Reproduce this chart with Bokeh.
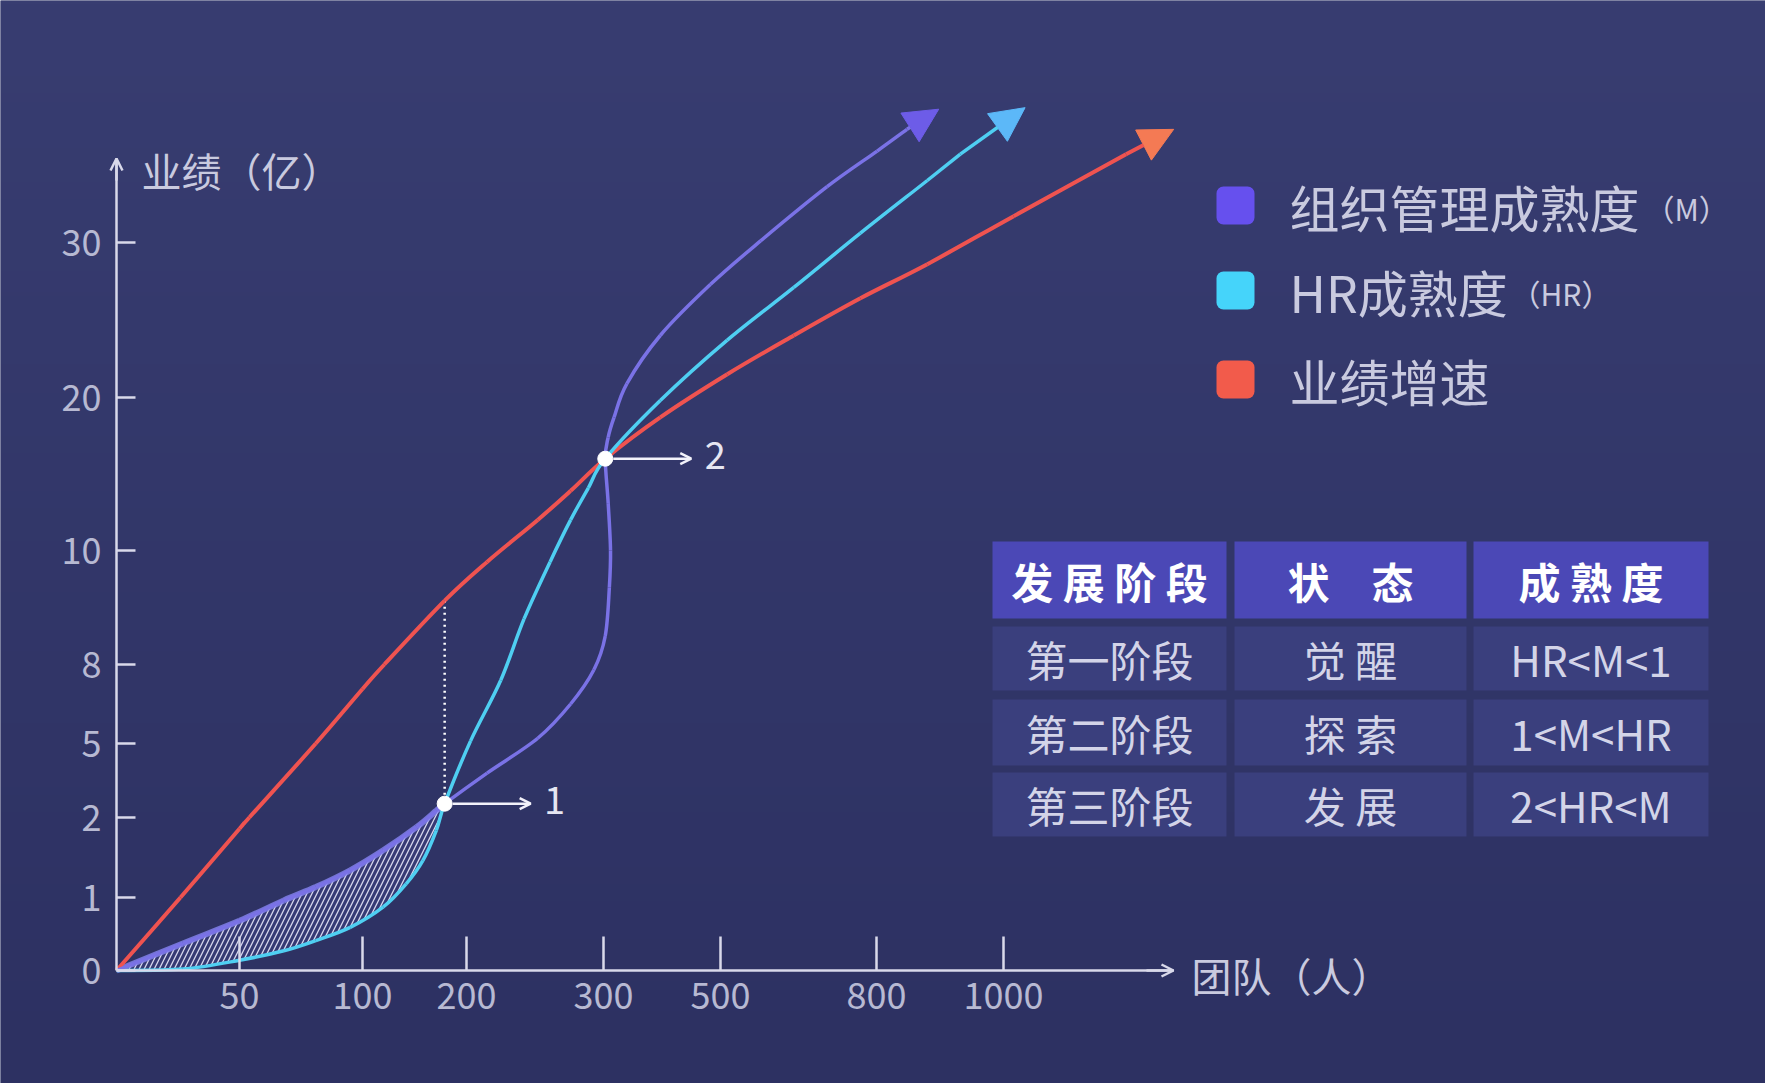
import numpy as np
from bokeh.plotting import figure
from bokeh.models import Range1d, FixedTicker, Arrow, NormalHead, OpenHead, Label, BoxAnnotation
from bokeh.core.properties import value
from bokeh.embed import file_html
from bokeh.resources import INLINE

# ---------------- data ----------------
team_ticks = [0, 50, 100, 200, 300, 500, 800, 1000]
revenue_ticks = [0, 1, 2, 5, 8, 10, 20, 30]

# 组织管理成熟度 (M)
m_team = [0, 27, 50, 68, 81, 95, 120, 152, 171, 179, 215, 252, 276, 293, 303, 310, 312, 308, 303,
          308, 318, 340, 397, 483, 577, 705, 801, 848, 898]
m_rev = [0, 0.37, 0.68, 0.96, 1.13, 1.34, 1.59, 1.88, 2.28, 2.56, 3.8, 5.2, 6.5, 7.8, 8.5, 9.35, 10,
         13.1, 16, 17.4, 18.7, 20.9, 24.0, 27.3, 30.1, 33.6, 35.9, 37.3, 38.6]

# HR成熟度 (HR)
hr_team = [0, 27, 50, 68, 81, 95, 120, 142, 158, 171, 179, 203, 225, 242, 261, 276, 289, 303,
           397, 513, 641, 769, 880, 932, 1034]
hr_rev = [0, 0.02, 0.14, 0.27, 0.41, 0.59, 0.87, 1.17, 1.46, 1.84, 2.56, 5.1, 7.4, 8.8, 9.8, 12,
          14.1, 16, 19.8, 23.7, 27.1, 30.6, 34.0, 35.7, 38.7]

# 业绩增速
perf_team = [0, 26, 50, 54, 81, 100, 121, 179, 215, 252, 276, 303, 397, 513, 641, 769, 880,
             1016, 1193, 1268]
perf_rev = [0, 1, 1.86, 2, 5, 7.07, 8, 9.12, 9.8, 12, 13.9, 16, 18.7, 21.5, 24.0, 26.4, 28.6,
            31.7, 35.7, 37.3]

stage_team = [179, 303]
stage_rev = [2.56, 16]
stage_labels = ["1", "2"]

legend_labels = ["组织管理成熟度", "HR成熟度", "业绩增速"]
legend_notes = ["（M）", "（HR）", ""]

table_header = ["发 展 阶 段", "状　态", "成 熟 度"]
table_stage = ["第一阶段", "第二阶段", "第三阶段"]
table_state = ["觉 醒", "探 索", "发 展"]
table_maturity = ["HR<M<1", "1<M<HR", "2<HR<M"]

# ---------------- irregular axis scales (axis position of each tick) ----------------
X_POS = [0, 123, 246, 350, 487, 604, 760, 887]
Y_POS = [0, 73, 153, 227, 306, 420, 573, 728]


def warp(v, ticks, pos):
    v = np.asarray(v, dtype=float)
    out = np.interp(v, ticks, pos)
    hi = v > ticks[-1]
    slope = (pos[-1] - pos[-2]) / (ticks[-1] - ticks[-2])
    out[hi] = pos[-1] + (v[hi] - ticks[-1]) * slope
    return out


def sx(v):
    return warp(v, team_ticks, X_POS)


def sy(v):
    return warp(v, revenue_ticks, Y_POS)


def smooth_segments(xs, ys):
    """Catmull-Rom -> cubic bezier control points for a smooth rendering of the read points."""
    px = np.concatenate([[xs[0]], xs, [xs[-1]]])
    py = np.concatenate([[ys[0]], ys, [ys[-1]]])
    n = len(xs) - 1
    x0, y0 = px[1:n + 1], py[1:n + 1]
    x1, y1 = px[2:n + 2], py[2:n + 2]
    cx0 = x0 + (px[2:n + 2] - px[0:n]) / 6.0
    cy0 = y0 + (py[2:n + 2] - py[0:n]) / 6.0
    cx1 = x1 - (px[3:n + 3] - px[1:n + 1]) / 6.0
    cy1 = y1 - (py[3:n + 3] - py[1:n + 1]) / 6.0
    return dict(x0=x0, y0=y0, x1=x1, y1=y1, cx0=cx0, cy0=cy0, cx1=cx1, cy1=cy1)


FONT = "Noto Sans CJK SC"
BG = "#33386b"
AX = "#d9d9ea"
LBL = "#b7b9d2"
TXT = "#c9cadf"

p = figure(width=1765, height=1083, x_range=Range1d(-116, 1649), y_range=Range1d(-113, 970),
           output_backend="svg", toolbar_location=None,
           min_border_left=0, min_border_bottom=0, min_border_top=0, min_border_right=0,
           background_fill_color=BG, border_fill_color=BG, outline_line_color=None)
p.grid.visible = False

# subtle vertical background gradient
top_c = np.array([56, 61, 113], float)
bot_c = np.array([45, 49, 98], float)
t = np.linspace(0, 1, 256)[:, None]
cols = (bot_c * (1 - t) + top_c * t).astype(np.uint32)
grad = (255 << 24) | (cols[:, 2] << 16) | (cols[:, 1] << 8) | cols[:, 0]
p.image_rgba(image=[grad.reshape(256, 1)], x=-116, y=-113, dw=1765, dh=1083)

# y axis
yt = [float(v) for v in sy(revenue_ticks)]
p.yaxis.ticker = FixedTicker(ticks=yt)
p.yaxis.major_label_overrides = {t_: str(r) for t_, r in zip(yt, revenue_ticks)}
p.yaxis.bounds = (0, 812)
p.yaxis.fixed_location = 0
# x axis
xt = [float(v) for v in sx(team_ticks[1:])]
p.xaxis.ticker = FixedTicker(ticks=xt)
p.xaxis.major_label_overrides = {t_: str(r) for t_, r in zip(xt, team_ticks[1:])}
p.xaxis.bounds = (0, 1057)
p.xaxis.fixed_location = 0
for ax, tin in ((p.yaxis, 19), (p.xaxis, 34)):
    ax.axis_line_color = AX
    ax.axis_line_width = 2.5
    ax.major_tick_line_color = AX
    ax.major_tick_line_width = 2.5
    ax.major_tick_in = tin
    ax.major_tick_out = 0
    ax.minor_tick_line_color = None
    ax.major_label_text_font = FONT
    ax.major_label_text_font_size = "36px"
    ax.major_label_text_color = LBL
p.yaxis.major_label_standoff = 15
p.xaxis.major_label_standoff = 12

# axis arrow heads
p.add_layout(Arrow(end=OpenHead(size=12, line_color=AX, line_width=2.5), x_start=0, y_start=790,
                   x_end=0, y_end=812, line_color=AX, line_width=2.5))
p.add_layout(Arrow(end=OpenHead(size=12, line_color=AX, line_width=2.5), x_start=1030, y_start=0,
                   x_end=1057, y_end=0, line_color=AX, line_width=2.5))
p.add_layout(Label(x=25, y=801, text="业绩（亿）", text_font=FONT, text_font_size="40px",
                   text_color=TXT, text_baseline="middle"))
p.add_layout(Label(x=1075, y=-4, text="团队（人）", text_font=FONT, text_font_size="40px",
                   text_color=TXT, text_baseline="middle"))

# hatched region between M and HR up to point 1
i1 = m_team.index(stage_team[0])
j1 = hr_team.index(stage_team[0])
hx = np.concatenate([sx(m_team[:i1 + 1]), sx(hr_team[:j1 + 1])[::-1]])
hy = np.concatenate([sy(m_rev[:i1 + 1]), sy(hr_rev[:j1 + 1])[::-1]])
p.patch(hx, hy, fill_color="#5a5ab8", fill_alpha=0.2, line_alpha=0,
        hatch_pattern="/", hatch_color="#d8d8ee", hatch_weight=1.3, hatch_scale=10)
# wider lilac edge along the top of the hatched region
p.bezier(line_color="#8684f0", line_width=6, line_alpha=0.8,
         **smooth_segments(sx(m_team[:i1 + 2])[:-1], sy(m_rev[:i1 + 2])[:-1]))

# dotted guide from 业绩 curve down to point 1
perf_at_1 = perf_rev[perf_team.index(stage_team[0])]
p.line(sx([stage_team[0], stage_team[0]]), sy([perf_at_1, stage_rev[0]]),
       line_color="#ffffff", line_width=2.5, line_dash="2 4")

series = [
    (perf_team, perf_rev, "#ef5350", "#f47a54", 4),
    (hr_team, hr_rev, "#4fcff2", "#5cb8f8", 3.5),
    (m_team, m_rev, "#7a72e6", "#6d5ce8", 3.5),
]
for team, rev, lc, hc, lw in series:
    xs, ys = sx(team), sy(rev)
    seg = smooth_segments(xs[:-1], ys[:-1])
    p.bezier(line_color=lc, line_width=lw, **seg)
    p.add_layout(Arrow(end=NormalHead(size=34, fill_color=hc, line_color=hc, line_width=1),
                       x_start=xs[-2], y_start=ys[-2], x_end=xs[-1], y_end=ys[-1],
                       line_color=lc, line_width=lw))

# stage points with arrows
spx, spy = sx(stage_team), sy(stage_rev)
for x0, y0, lab in zip(spx, spy, stage_labels):
    p.add_layout(Arrow(end=OpenHead(size=11, line_color="#f2f2fa", line_width=2.5),
                       x_start=x0 + 8, y_start=y0, x_end=x0 + 86, y_end=y0,
                       line_color="#f2f2fa", line_width=2.5))
    p.add_layout(Label(x=x0 + 110, y=y0 + 4, text=lab, text_font=FONT, text_font_size="38px",
                       text_color="#e6e6f2", text_align="center", text_baseline="middle"))
p.scatter(spx, spy, size=15, fill_color="#ffffff", line_color="#ffffff")

# legend
leg_colors = ["#6650ee", "#45d4fa", "#f25b4b"]
leg_y = [765, 680, 591]
note_x = [1528, 1394, 0]
for c, yy, lab, note, nx in zip(leg_colors, leg_y, legend_labels, legend_notes, note_x):
    p.add_layout(BoxAnnotation(left=1100, right=1138, bottom=yy - 19, top=yy + 19,
                               fill_color=c, fill_alpha=1, line_color=None, border_radius=7))
    p.add_layout(Label(x=1173, y=yy, text=lab, text_font=FONT, text_font_size="50px",
                       text_color=TXT, text_baseline="middle"))
    if note:
        p.add_layout(Label(x=nx, y=yy - 2, text=note, text_font=FONT,
                           text_font_size="30px", text_color=TXT, text_baseline="middle"))

# table
col_l = [876, 1118, 1357]
col_r = [1110, 1350, 1592]
row_t = [429, 344, 271, 198]
row_b = [352, 280, 205, 134]
p.quad(left=col_l, right=col_r, top=[row_t[0]] * 3, bottom=[row_b[0]] * 3,
       fill_color="#4b48b6", line_color=None)
for r in range(1, 4):
    p.quad(left=col_l, right=col_r, top=[row_t[r]] * 3, bottom=[row_b[r]] * 3,
           fill_color="#3a3f7d", line_color=None)
cx = [(a + b) / 2 for a, b in zip(col_l, col_r)]
cy = [(a + b) / 2 for a, b in zip(row_t, row_b)]
p.text(x=cx, y=[cy[0]] * 3, text=table_header, text_font=value(FONT), text_font_size="42px",
       text_font_style="bold", text_color="#ffffff", text_align="center", text_baseline="middle")
rows = list(zip(table_stage, table_state, table_maturity))
for r, row in enumerate(rows):
    p.text(x=cx, y=[cy[r + 1]] * 3, text=list(row), text_font=value(FONT), text_font_size="42px",
           text_color="#d3d4e8", text_align="center", text_baseline="middle")

open("out.html", "w").write(file_html(p, INLINE))
